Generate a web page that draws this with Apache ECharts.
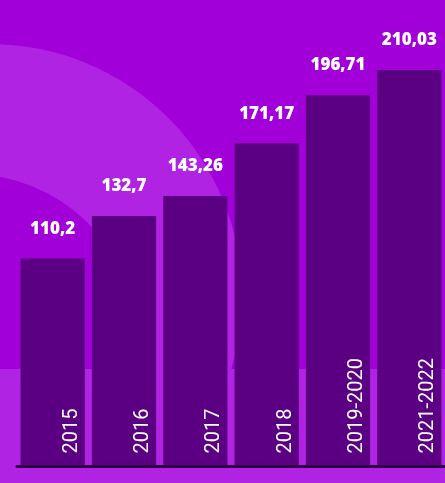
<!DOCTYPE html>
<html>
<head>
<meta charset="utf-8">
<script src="https://cdn.jsdelivr.net/npm/echarts@6/dist/echarts.min.js"></script>
<style>
html,body{margin:0;padding:0;background:#a100d8;}
#chart{width:445px;height:483px;}
</style>
</head>
<body>
<div id="chart"></div>
<script>
const categories = ['2015', '2016', '2017', '2018', '2019-2020', '2021-2022'];
const values = [110.2, 132.7, 143.26, 171.17, 196.71, 210.03];

const chart = echarts.init(document.getElementById('chart'));
chart.setOption({
  backgroundColor: '#a100d8',
  animation: false,
  graphic: [
    { type: 'circle', z: -10, shape: { cx: -10, cy: 296, r: 252 }, style: { fill: '#b023e3' }, silent: true },
    { type: 'circle', z: -9, shape: { cx: -30, cy: 340, r: 166 }, style: { fill: '#a100d8' }, silent: true },
    { type: 'rect', z: -8, shape: { x: 0, y: 369, width: 445, height: 114 }, style: { fill: '#b023e3' }, silent: true }
  ],
  grid: { left: 17, right: 0, top: 13.4, bottom: 16.5, containLabel: false },
  xAxis: {
    type: 'category',
    data: categories,
    z: 10,
    axisLine: { show: true, lineStyle: { color: '#2d0045', width: 3 } },
    axisTick: { show: false },
    axisLabel: {
      inside: true,
      rotate: 90,
      margin: 13,
      align: 'left',
      verticalAlign: 'top',
      padding: [9, 0, 0, 0],
      color: '#ffffff',
      fontFamily: 'Roboto',
      fontSize: 20
    }
  },
  yAxis: {
    type: 'value',
    min: 0,
    max: 240,
    show: false,
    splitLine: { show: false }
  },
  series: [{
    type: 'bar',
    data: values,
    barCategoryGap: '10%',
    itemStyle: { color: '#5b0082' },
    label: {
      show: true,
      position: 'top',
      distance: 21,
      color: '#ffffff',
      fontFamily: 'Open Sans',
      fontWeight: 800,
      fontSize: 17,
      formatter: p => String(p.value).replace('.', ',')
    }
  }]
});
</script>
</body>
</html>
